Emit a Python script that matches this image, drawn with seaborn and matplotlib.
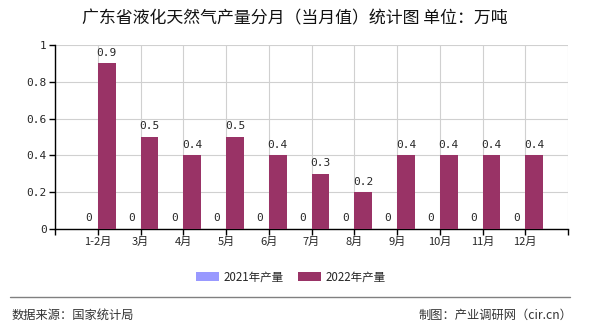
import matplotlib
matplotlib.use("Agg")
import matplotlib.pyplot as plt
import seaborn as sns
import pandas as pd
from matplotlib.patches import Patch
from matplotlib.lines import Line2D

categories = ["1-2月", "3月", "4月", "5月", "6月", "7月", "8月", "9月", "10月", "11月", "12月"]
values_2021 = [0, 0, 0, 0, 0, 0, 0, 0, 0, 0, 0]
values_2022 = [0.9, 0.5, 0.4, 0.5, 0.4, 0.3, 0.2, 0.4, 0.4, 0.4, 0.4]
series_names = ["2021年产量", "2022年产量"]
colors = ["#9999FF", "#993366"]
yticks = [0, 0.2, 0.4, 0.6, 0.8, 1]
ytick_labels = ["0", "0.2", "0.4", "0.6", "0.8", "1"]

sns.set_theme(style="white")
plt.rcParams["font.family"] = ["Noto Sans CJK SC", "DejaVu Sans"]

df = pd.DataFrame({
    "month": categories * 2,
    "value": values_2021 + values_2022,
    "series": [series_names[0]] * len(categories) + [series_names[1]] * len(categories),
})

fig = plt.figure(figsize=(5.9, 3.3), dpi=100)
ax = fig.add_axes([55 / 590, 1 - 229 / 330, (568 - 55) / 590, (229 - 45) / 330])

sns.barplot(data=df, x="month", y="value", hue="series", order=categories,
            hue_order=series_names, palette=colors, width=0.84, saturation=1,
            ax=ax, legend=False, zorder=3, linewidth=0, edgecolor="none")

ax.set_xlim(-1, 11)
ax.set_ylim(0, 1)
ax.set_xticks(range(-1, 12))
ax.set_xticklabels([""] + categories + [""], fontsize=8)
ax.set_yticks(yticks)
ax.set_yticklabels(ytick_labels, fontsize=8, family="DejaVu Sans Mono")
ax.set_xlabel("")
ax.set_ylabel("")
ax.grid(True, color="#d0d0d0", linewidth=0.8, zorder=0)
ax.set_axisbelow(True)
for s in ["top", "right"]:
    ax.spines[s].set_visible(False)
for s in ["left", "bottom"]:
    ax.spines[s].set_color("black")
    ax.spines[s].set_linewidth(1)
ax.tick_params(axis="both", direction="out", length=4, width=1, color="black",
               bottom=True, left=True, pad=2)

for container, vals in zip(ax.containers, [values_2021, values_2022]):
    labels = [("%g" % v) for v in vals]
    ax.bar_label(container, labels=labels, padding=4, fontsize=8,
                 family="DejaVu Sans Mono")

fig.text(0.5, 1 - 18 / 330, "广东省液化天然气产量分月（当月值）统计图 单位：万吨",
         ha="center", va="center", fontsize=12.2, color="#111111")

handles = [Patch(facecolor=c, edgecolor="none") for c in colors]
fig.legend(handles, series_names, loc="center", bbox_to_anchor=(0.493, 1 - 277 / 330),
           ncol=2, frameon=False, fontsize=8.3, handlelength=2.0, handleheight=0.9,
           columnspacing=1.2, handletextpad=0.4)

fig.add_artist(Line2D([10 / 590, 570 / 590], [1 - 297 / 330, 1 - 297 / 330],
                      color="#808080", linewidth=1, transform=fig.transFigure))
fig.text(12 / 590, 1 - 315 / 330, "数据来源：国家统计局", ha="left", va="center",
         fontsize=8.8, color="#333333")
fig.text(572 / 590, 1 - 315 / 330, "制图：产业调研网（cir.cn）", ha="right", va="center",
         fontsize=8.8, color="#333333")

fig.savefig("out.png", dpi=100, facecolor="white")
